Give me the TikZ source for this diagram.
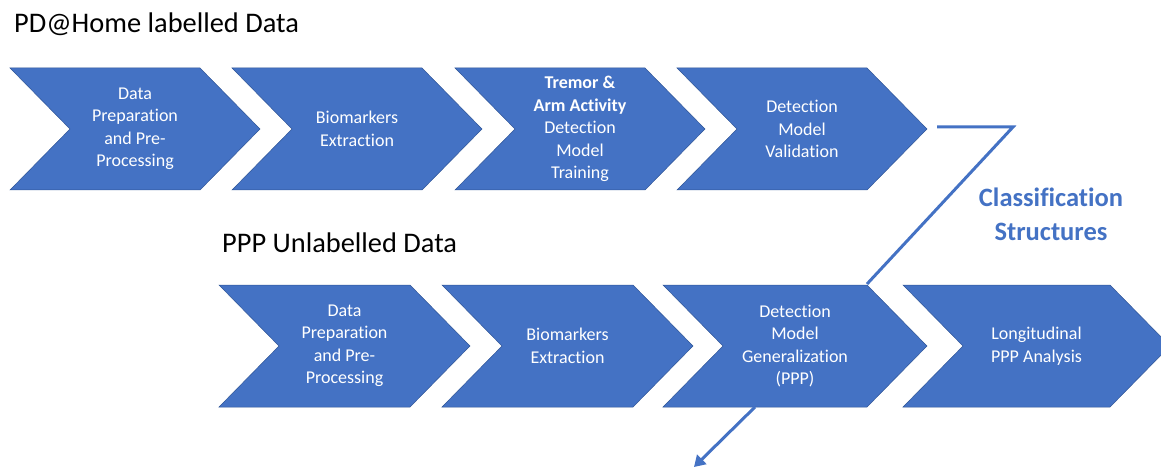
\documentclass[tikz,border=0pt]{standalone}
\usepackage{fontspec}
\setmainfont{Carlito}[Ligatures={NoCommon}]
\usetikzlibrary{arrows.meta}
\definecolor{offblue}{HTML}{4472C4}
\definecolor{offdark}{HTML}{2F5597}
\tikzset{
  chevfill/.style={fill=offblue, draw=offdark, line width=0.5pt},
  chevtext/.style={text=white, align=center, font=\fontsize{18}{22.5}\selectfont, inner sep=0pt},
  titletext/.style={text=black, anchor=base west, font=\fontsize{28.4}{32}\selectfont, inner sep=0pt},
  conn/.style={draw=offblue, line width=3pt},
}
\newcommand\chev[6]{%
  \path[chevfill] (#2,#3) -- ({#2+#4-60},#3) -- ({#2+#4},{#3+#5/2}) -- ({#2+#4-60},{#3+#5}) -- (#2,{#3+#5}) -- ({#2+60},{#3+#5/2}) -- cycle;
  \node[chevtext] (#1) at ({#2+#4/2},{#3+#5/2}) {#6};}
\begin{document}
\begin{tikzpicture}[x=1pt,y=-1pt]
\useasboundingbox (0,0) rectangle (1161,470);
\clip (0,0) rectangle (1161,470);
\node[titletext] (t1) at (14,33) {PD@Home labelled Data};
\node[titletext] (t2) at (222,252) {PPP Unlabelled Data};
% top row
\chev{top1}{10}{68}{250}{122}{Data\\Preparation\\and Pre-\\Processing}
\chev{top2}{232}{68}{250}{122}{Biomarkers\\Extraction}
\chev{top3}{455}{68}{250}{122}{\textbf{Tremor \&}\\\textbf{Arm Activity}\\Detection\\Model\\Training}
\chev{top4}{677}{68}{250}{122}{Detection\\Model\\Validation}
% bottom row
\chev{bot1}{219}{285}{251}{122}{Data\\Preparation\\and Pre-\\Processing}
\chev{bot2}{442}{285}{251}{122}{Biomarkers\\Extraction}
\chev{bot3}{663}{285}{264}{122}{Detection\\Model\\Generalization\\(PPP)}
\chev{bot4}{903}{285}{267}{122}{Longitudinal\\PPP Analysis}
\node[text=offblue, align=center, font=\fontsize{26.5}{34}\selectfont\bfseries, inner sep=0pt] (cls) at (1051,214) {Classification\\Structures};
% connectors
\coordinate (ca) at (937,127);
\coordinate (cb) at (1013,127);
\coordinate (cc) at (867,284);
\draw[conn, line join=miter] (ca) -- (cb) -- (cc);
\coordinate (da) at (755,407);
\coordinate (db) at (694,467);
\draw[conn, -{Triangle[length=11pt,width=13pt]}] (da) -- (db);
\end{tikzpicture}
\end{document}
